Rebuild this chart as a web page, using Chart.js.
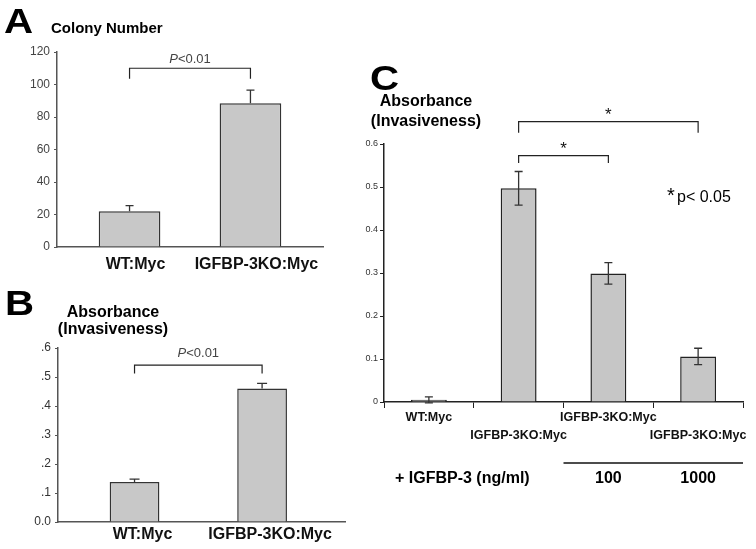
<!DOCTYPE html>
<html>
<head>
<meta charset="utf-8">
<script src="https://cdn.jsdelivr.net/npm/chart.js@4.4.1/dist/chart.umd.min.js"></script>
<style>
body { margin: 0; background: #fff; }
#fig { position: relative; width: 756px; height: 549px; overflow: hidden; font-family: "Liberation Sans", Arial, sans-serif; color: #000; }
#fig canvas { position: absolute; left: 0; top: 0; }
.lbl { position: absolute; font-weight: bold; white-space: nowrap; }
.panel { font-size: 35px; line-height: 35px; transform: scaleX(1.15); transform-origin: left top; }
.title { width: 140px; text-align: center; font-size: 16px; }
</style>
</head>
<body>
<div id="fig">
  <canvas id="chartA" width="756" height="549"></canvas>
  <canvas id="chartB" width="756" height="549"></canvas>
  <canvas id="chartC" width="756" height="549"></canvas>

  <div class="lbl panel" style="left:4px;top:3px">A</div>
  <div class="lbl" style="left:51px;top:20px;font-size:15px;line-height:15px">Colony Number</div>

  <div class="lbl panel" style="left:5px;top:285px">B</div>
  <div class="lbl title" style="left:43px;top:303px;line-height:17px">Absorbance<br>(Invasiveness)</div>

  <div class="lbl panel" style="left:370px;top:60px">C</div>
  <div class="lbl title" style="left:356px;top:91px;line-height:20px">Absorbance<br>(Invasiveness)</div>
  <div class="lbl" style="left:667px;top:185px;font-size:20px;line-height:20px;font-weight:normal">*</div>
  <div class="lbl" style="left:677px;top:189px;font-size:16px;line-height:16px;font-weight:normal">p&lt; 0.05</div>
  <div class="lbl" style="left:395px;top:470px;font-size:16px;line-height:16px">+ IGFBP-3 (ng/ml)</div>
</div>

<script>
// data
const groupsAB = ["WT:Myc", "IGFBP-3KO:Myc"];
const colonyNumber = [22, 88.5];
const colonyErr = [3.5, 8];

const invasionB = [0.138, 0.46];
const invasionBErr = [0.01, 0.018];
const ticksB = ["0.0", ".1", ".2", ".3", ".4", ".5", ".6"];

const groupsC = ["WT:Myc", "IGFBP-3KO:Myc", "IGFBP-3KO:Myc", "IGFBP-3KO:Myc"];
const invasionC = [0.005, 0.497, 0.299, 0.106];
const invasionCErr = [0.007, 0.039, 0.025, 0.019];
const ticksC = ["0", "0.1", "0.2", "0.3", "0.4", "0.5", "0.6"];
const doseC = ["", "", "100", "1000"];

const FONT = "'Liberation Sans', Arial, sans-serif";
Chart.defaults.font.family = FONT;

// error bars + significance brackets
function marks(cfg) {
  return {
    id: "marks",
    afterDatasetsDraw(chart) {
      const ctx = chart.ctx;
      const x = chart.scales.x, y = chart.scales.y;
      const bars = chart.getDatasetMeta(0).data;
      const vals = chart.data.datasets[0].data;
      ctx.save();
      ctx.strokeStyle = "#333";
      ctx.lineWidth = 1.3;
      bars.forEach((bar, i) => {
        const v = typeof vals[i] === "object" ? vals[i].y : vals[i];
        const top = y.getPixelForValue(v + cfg.errors[i]);
        const bot = cfg.both ? y.getPixelForValue(v - cfg.errors[i]) : bar.y;
        ctx.beginPath();
        ctx.moveTo(bar.x, top); ctx.lineTo(bar.x, bot);
        ctx.moveTo(bar.x - cfg.cap, top); ctx.lineTo(bar.x + cfg.cap, top);
        if (cfg.both) { ctx.moveTo(bar.x - cfg.cap, bot); ctx.lineTo(bar.x + cfg.cap, bot); }
        ctx.stroke();
      });

      ctx.strokeStyle = "#222";
      ctx.lineWidth = 1.2;
      cfg.brackets.forEach(b => {
        const x1 = x.getPixelForValue(b.from), x2 = x.getPixelForValue(b.to);
        const yt = y.getPixelForValue(b.top), yf = y.getPixelForValue(b.foot);
        ctx.beginPath();
        ctx.moveTo(x1, yf); ctx.lineTo(x1, yt); ctx.lineTo(x2, yt); ctx.lineTo(x2, yf);
        ctx.stroke();

        // label parts, centred over the bracket
        ctx.fillStyle = cfg.textColor;
        ctx.textBaseline = "alphabetic";
        ctx.textAlign = "left";
        let w = 0;
        b.text.forEach(p => { ctx.font = p[1] + " " + FONT; w += ctx.measureText(p[0]).width; });
        let tx = (x1 + x2) / 2 - w / 2;
        b.text.forEach(p => {
          ctx.font = p[1] + " " + FONT;
          ctx.fillText(p[0], tx, yt - cfg.gap);
          tx += ctx.measureText(p[0]).width;
        });
      });
      ctx.restore();
    }
  };
}

// dose row under panel C
const doseRow = {
  id: "doseRow",
  afterDraw(chart) {
    const ctx = chart.ctx, x = chart.scales.x, ca = chart.chartArea;
    const first = doseC.findIndex(d => d !== "");
    const xStart = (x.getPixelForValue(first - 1) + x.getPixelForValue(first)) / 2;
    ctx.save();
    ctx.strokeStyle = "#111";
    ctx.lineWidth = 1.5;
    ctx.beginPath();
    ctx.moveTo(xStart, ca.bottom + 61);
    ctx.lineTo(ca.right, ca.bottom + 61);
    ctx.stroke();
    ctx.fillStyle = "#000";
    ctx.font = "bold 16px " + FONT;
    ctx.textAlign = "center";
    ctx.textBaseline = "alphabetic";
    doseC.forEach((d, i) => { if (d) ctx.fillText(d, x.getPixelForValue(i), ca.bottom + 81); });
    ctx.restore();
  }
};

const noLegend = { legend: { display: false }, tooltip: { enabled: false } };

// A: colony number
new Chart(document.getElementById("chartA"), {
  type: "bar",
  data: {
    datasets: [{
      data: groupsAB.map((g, i) => ({ x: i, y: colonyNumber[i] })),
      backgroundColor: "#c8c8c8",
      borderColor: "#333",
      borderWidth: 1.5,
      categoryPercentage: 1,
      barPercentage: 0.51
    }]
  },
  options: {
    responsive: false,
    animation: false,
    events: [],
    layout: { padding: { left: 17, top: 52, right: 433, bottom: 272 } },
    plugins: noLegend,
    scales: {
      x: {
        type: "linear", min: -0.6, max: 1.6, offset: false,
        grid: { display: false, drawTicks: false },
        border: { color: "#555", width: 1.5 },
        ticks: {
          stepSize: 1, includeBounds: false, autoSkip: false, maxRotation: 0,
          padding: 8, labelOffset: 6, color: "#111",
          font: { size: 16, weight: "bold" },
          callback: v => groupsAB[v] ?? ""
        },
        afterFit: s => { s.height = 30; }
      },
      y: {
        min: 0, max: 120,
        ticks: { stepSize: 20, color: "#444", font: { size: 12 }, padding: 4 },
        grid: { drawOnChartArea: false, tickLength: 3, color: "#555" },
        border: { color: "#555", width: 1.5 },
        afterFit: s => { s.width = 40; }
      }
    }
  },
  plugins: [marks({
    errors: colonyErr, both: false, cap: 4, gap: 5, textColor: "#444",
    brackets: [{ from: 0, to: 1, top: 110, foot: 103.5, text: [["P", "italic 13px"], ["<0.01", "13px"]] }]
  })]
});

// B: invasiveness
new Chart(document.getElementById("chartB"), {
  type: "bar",
  data: {
    datasets: [{
      data: groupsAB.map((g, i) => ({ x: i, y: invasionB[i] })),
      backgroundColor: "#c8c8c8",
      borderColor: "#333",
      borderWidth: 1.5,
      categoryPercentage: 1,
      barPercentage: 0.39
    }]
  },
  options: {
    responsive: false,
    animation: false,
    events: [],
    layout: { padding: { left: 18, top: 348, right: 411, bottom: 7 } },
    plugins: noLegend,
    scales: {
      x: {
        type: "linear", min: -0.6, max: 1.65, offset: false,
        grid: { display: false, drawTicks: false },
        border: { color: "#555", width: 1.5 },
        ticks: {
          stepSize: 1, includeBounds: false, autoSkip: false, maxRotation: 0,
          padding: 3, labelOffset: 8, color: "#111",
          font: { size: 16, weight: "bold" },
          callback: v => groupsAB[v] ?? ""
        },
        afterFit: s => { s.height = 20; }
      },
      y: {
        min: 0, max: 0.6,
        ticks: { stepSize: 0.1, color: "#333", font: { size: 12 }, padding: 4, callback: (v, i) => ticksB[i] },
        grid: { drawOnChartArea: false, tickLength: 3, color: "#555" },
        border: { color: "#555", width: 1.5 },
        afterFit: s => { s.width = 40; }
      }
    }
  },
  plugins: [marks({
    errors: invasionBErr, both: false, cap: 5, gap: 8, textColor: "#444",
    brackets: [{ from: 0, to: 1, top: 0.541, foot: 0.512, text: [["P", "italic 13px"], ["<0.01", "13px"]] }]
  })]
});

// C: invasiveness with IGFBP-3 rescue
new Chart(document.getElementById("chartC"), {
  type: "bar",
  data: {
    labels: groupsC,
    datasets: [{
      data: invasionC,
      backgroundColor: "#c6c6c6",
      borderColor: "#222",
      borderWidth: 1.5,
      categoryPercentage: 1,
      barPercentage: 0.4
    }]
  },
  options: {
    responsive: false,
    animation: false,
    events: [],
    layout: { padding: { left: 354, top: 144, right: 13, bottom: 97 } },
    plugins: noLegend,
    scales: {
      x: {
        grid: { drawOnChartArea: false, tickLength: 6, color: "#222", offset: true },
        border: { color: "#222", width: 1.5 },
        ticks: {
          autoSkip: false, maxRotation: 0, padding: 0, color: "#111",
          font: { size: 12.5, weight: "bold", lineHeight: 1.45 },
          callback: (v, i) => (i % 2 ? ["", groupsC[i]] : groupsC[i])
        },
        afterFit: s => { s.height = 50; }
      },
      y: {
        min: 0, max: 0.6,
        ticks: { stepSize: 0.1, color: "#333", font: { size: 9 }, padding: 2, callback: (v, i) => ticksC[i] },
        grid: { drawOnChartArea: false, tickLength: 4, color: "#222" },
        border: { color: "#222", width: 1.5 },
        afterFit: s => { s.width = 30; }
      }
    }
  },
  plugins: [marks({
    errors: invasionCErr, both: true, cap: 4, gap: 2, textColor: "#111",
    brackets: [
      { from: 1, to: 2, top: 0.573, foot: 0.556, text: [["*", "17px"]] },
      { from: 1, to: 3, top: 0.652, foot: 0.626, text: [["*", "17px"]] }
    ]
  }), doseRow]
});
</script>
</body>
</html>
